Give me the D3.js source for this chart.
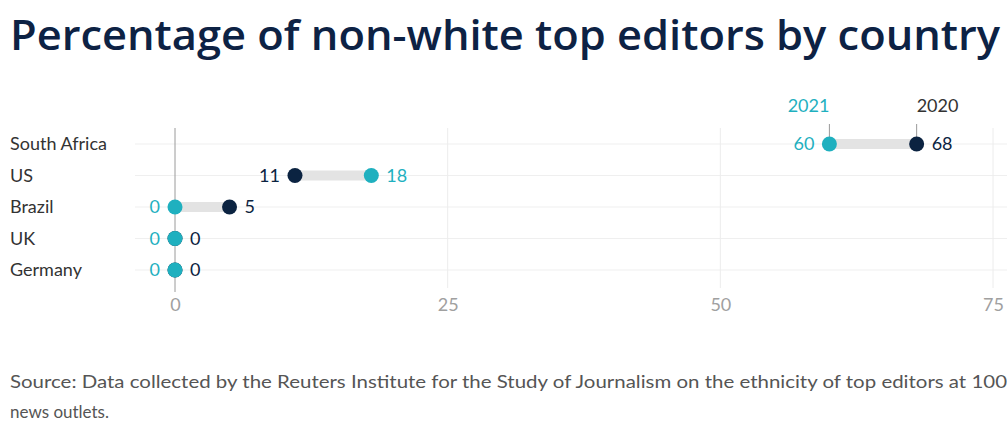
<!DOCTYPE html>
<html>
<head>
<meta charset="utf-8">
<script src="https://cdn.jsdelivr.net/npm/d3@7"></script>
<style>
  body { margin: 0; background: #fff; }
  text { font-family: "Lato", "Open Sans", sans-serif; }
</style>
</head>
<body>
<div class="chart"></div>
<script>
// data
var countries = ["South Africa", "US", "Brazil", "UK", "Germany"];
var values2020 = [68, 11, 5, 0, 0];
var values2021 = [60, 18, 0, 0, 0];
var xTicks = [0, 25, 50, 75];
var years = ["2021", "2020"];

var teal = "#1fb0bf", navy = "#0b2341";

const svg = d3.select(".chart")
            .append("svg")
            .attr("width", 1007)
            .attr("height", 424)

var x = d3.scaleLinear()
          .domain([0, 75])
          .range([175, 993]);
var y = d3.scalePoint()
          .domain(countries)
          .range([144, 270]);

var rows = countries.map(function(c, i) {
  return { country: c, v20: values2020[i], v21: values2021[i] };
});

// title
svg.append("text")
   .attr("x", 10).attr("y", 50)
   .attr("textLength", 990).attr("lengthAdjust", "spacingAndGlyphs")
   .style("font-size", "42px").style("font-weight", 600)
   .style("font-family", "'Open Sans', sans-serif")
   .attr("fill", "#0d2244")
   .text("Percentage of non-white top editors by country");

// horizontal grid
svg.selectAll(".hgrid")
   .data(countries)
   .enter().append("line")
   .attr("x1", 135).attr("x2", 1007)
   .attr("y1", function(d) { return y(d); })
   .attr("y2", function(d) { return y(d); })
   .attr("stroke", "#efefef").attr("stroke-width", 1);

// vertical grid
svg.selectAll(".vgrid")
   .data(xTicks.slice(1))
   .enter().append("line")
   .attr("x1", function(d) { return x(d); })
   .attr("x2", function(d) { return x(d); })
   .attr("y1", 128).attr("y2", 288)
   .attr("stroke", "#ececec").attr("stroke-width", 1);

// zero line
svg.append("line")
   .attr("x1", x(0)).attr("x2", x(0))
   .attr("y1", 128).attr("y2", 292)
   .attr("stroke", "#9a9a9a").attr("stroke-width", 1);

// x tick labels
var axis = svg.append("g")
    .attr("transform", "translate(0," + 298 + ")")
    .call(d3.axisBottom(x).tickValues(xTicks).tickSize(0).tickPadding(0));
axis.select(".domain").remove();
axis.selectAll("text")
    .attr("dy", "0.71em")
    .style("font-size", "18px")
    .style("font-family", "Lato, sans-serif")
    .attr("fill", "#a0a0a0");

// country labels
svg.selectAll(".clab")
   .data(countries)
   .enter().append("text")
   .attr("x", 10)
   .attr("y", function(d) { return y(d); })
   .attr("dy", "0.35em")
   .style("font-size", "18px")
   .attr("fill", "#333")
   .text(function(d) { return d; });

// connectors
svg.selectAll(".conn")
   .data(rows)
   .enter().append("line")
   .attr("x1", function(d) { return x(d.v20); })
   .attr("x2", function(d) { return x(d.v21); })
   .attr("y1", function(d) { return y(d.country); })
   .attr("y2", function(d) { return y(d.country); })
   .attr("stroke", "#e3e3e3").attr("stroke-width", 10);

// legend ticks (first row)
var firstRow = rows[0];
svg.append("line")
   .attr("x1", x(firstRow.v21)).attr("x2", x(firstRow.v21))
   .attr("y1", 124).attr("y2", y(firstRow.country))
   .attr("stroke", "#999").attr("stroke-width", 1);
svg.append("line")
   .attr("x1", x(firstRow.v20)).attr("x2", x(firstRow.v20))
   .attr("y1", 124).attr("y2", y(firstRow.country))
   .attr("stroke", "#999").attr("stroke-width", 1);
svg.append("text")
   .attr("x", x(firstRow.v21)).attr("y", 112)
   .attr("text-anchor", "end")
   .style("font-size", "18px").attr("fill", teal)
   .text(years[0]);
svg.append("text")
   .attr("x", x(firstRow.v20)).attr("y", 112)
   .attr("text-anchor", "start")
   .style("font-size", "18px").attr("fill", "#333")
   .text(years[1]);

// dots: 2020 navy, 2021 teal on top
svg.selectAll(".d20")
   .data(rows)
   .enter().append("circle")
   .attr("cx", function(d) { return x(d.v20); })
   .attr("cy", function(d) { return y(d.country); })
   .attr("r", 7.5)
   .attr("fill", navy);
svg.selectAll(".d21")
   .data(rows)
   .enter().append("circle")
   .attr("cx", function(d) { return x(d.v21); })
   .attr("cy", function(d) { return y(d.country); })
   .attr("r", 7.5)
   .attr("fill", teal);

// value labels: smaller on left, larger on right; on ties 2021 left
rows.forEach(function(d) {
  var leftIs21 = d.v21 <= d.v20;
  var lv = leftIs21 ? d.v21 : d.v20, rv = leftIs21 ? d.v20 : d.v21;
  svg.append("text")
     .attr("x", x(lv) - 15).attr("y", y(d.country))
     .attr("dy", "0.35em").attr("text-anchor", "end")
     .style("font-size", "18px")
     .attr("fill", leftIs21 ? teal : navy)
     .text(lv);
  svg.append("text")
     .attr("x", x(rv) + 15).attr("y", y(d.country))
     .attr("dy", "0.35em").attr("text-anchor", "start")
     .style("font-size", "18px")
     .attr("fill", leftIs21 ? navy : teal)
     .text(rv);
});

// source
svg.append("text")
   .attr("x", 10).attr("y", 388)
   .attr("textLength", 997).attr("lengthAdjust", "spacingAndGlyphs")
   .style("font-size", "17px").attr("fill", "#555")
   .text("Source: Data collected by the Reuters Institute for the Study of Journalism on the ethnicity of top editors at 100");
svg.append("text")
   .attr("x", 10).attr("y", 418)
   .style("font-size", "17px").attr("fill", "#555")
   .text("news outlets.");
</script>
</body>
</html>
